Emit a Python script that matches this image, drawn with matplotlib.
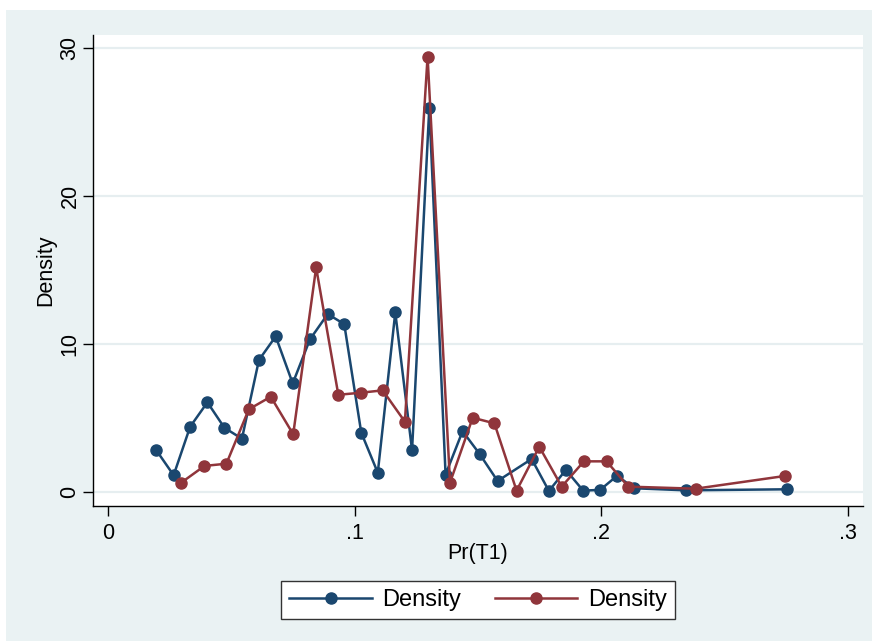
import matplotlib
matplotlib.use("Agg")
import matplotlib.pyplot as plt
from matplotlib.patches import Rectangle

plt.rcParams["font.family"] = ["Liberation Sans", "DejaVu Sans"]

NAVY = "#1A476F"
MAROON = "#90353B"
BG = "#EAF2F3"
GRID = "#E6EEF0"

# series 1 (navy)
x1 = [0.0195, 0.0266, 0.0333, 0.0403, 0.0472, 0.0543, 0.0612, 0.0680,
      0.0749, 0.0819, 0.0891, 0.0958, 0.1027, 0.1094, 0.1165, 0.1233,
      0.1303, 0.1369, 0.1438, 0.1507, 0.1580, 0.1718, 0.1788, 0.1857,
      0.1927, 0.1996, 0.2065, 0.2133, 0.2343, 0.2755]
y1 = [2.84, 1.13, 4.41, 6.06, 4.34, 3.60, 8.92, 10.52,
      7.34, 10.32, 12.03, 11.35, 4.01, 1.30, 12.14, 2.82,
      25.99, 1.18, 4.11, 2.57, 0.74, 2.23, 0.07, 1.49,
      0.09, 0.14, 1.10, 0.25, 0.11, 0.18]

# series 2 (maroon)
x2 = [0.0297, 0.0391, 0.0480, 0.0571, 0.0660, 0.0751, 0.0844, 0.0934,
      0.1025, 0.1114, 0.1204, 0.1296, 0.1387, 0.1479, 0.1567, 0.1657,
      0.1749, 0.1840, 0.1930, 0.2022, 0.2110, 0.2383, 0.2745]
y2 = [0.63, 1.76, 1.91, 5.59, 6.44, 3.90, 15.18, 6.57,
      6.71, 6.87, 4.75, 29.44, 0.63, 5.02, 4.64, 0.09,
      3.06, 0.36, 2.07, 2.07, 0.36, 0.22, 1.08]

xticks = [0, 0.1, 0.2, 0.3]
xticklabels = ["0", ".1", ".2", ".3"]
yticks = [0, 10, 20, 30]

W, H = 872, 641
fig = plt.figure(figsize=(W / 100, H / 100), dpi=100, facecolor="white")
bg = Rectangle((6 / W, 0), 1, 1 - 10 / H, transform=fig.transFigure,
               facecolor=BG, edgecolor="none", zorder=-10)
fig.patches.append(bg)

ax = fig.add_axes([93 / W, 1 - 506 / H, (863 - 93) / W, (506 - 35) / H])
ax.set_facecolor("white")

ax.plot(x1, y1, color=NAVY, lw=1.8, marker="o", ms=8, label="Density", zorder=3)
ax.plot(x2, y2, color=MAROON, lw=1.8, marker="o", ms=8, label="Density", zorder=3)

ax.set_xlim(-0.0061, 0.3062)
ax.set_ylim(-0.95, 30.9)
ax.set_xticks(xticks)
ax.set_xticklabels(xticklabels)
ax.set_yticks(yticks)
ax.set_yticklabels([str(t) for t in yticks], rotation=90, va="center")
ax.grid(axis="y", color=GRID, linewidth=1.6, zorder=1)
ax.set_axisbelow(True)

for s in ["top", "right"]:
    ax.spines[s].set_visible(False)
for s in ["left", "bottom"]:
    ax.spines[s].set_color("black")
    ax.spines[s].set_linewidth(1.0)
ax.tick_params(direction="out", length=7, width=1.0, labelsize=15.5)
ax.tick_params(axis="x", pad=5.5)
ax.tick_params(axis="y", pad=2)

ax.set_xlabel("Pr(T1)", fontsize=15.5, labelpad=-1)
ax.set_ylabel("Density", fontsize=15.5, labelpad=2)

leg = fig.legend(loc="center", bbox_to_anchor=(478 / W, 1 - 600 / H), ncol=2,
                 fontsize=17, numpoints=1, handlelength=3.5, handletextpad=0.45,
                 columnspacing=1.4, borderpad=0.35, fancybox=False,
                 framealpha=1, edgecolor="#333333")
leg.get_frame().set_linewidth(1.0)

fig.savefig("out.png", dpi=100, facecolor="white")
